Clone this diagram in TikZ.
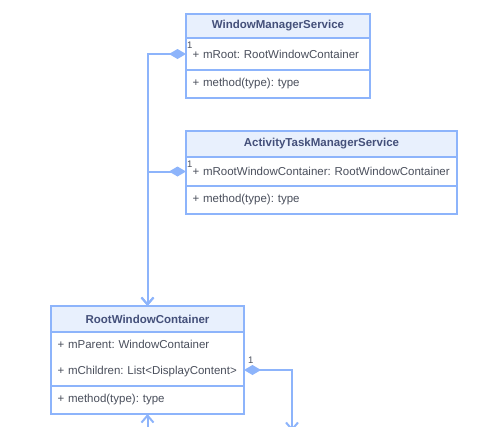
\documentclass[tikz,border=0pt]{standalone}
\usepackage{fontspec}
\setmainfont{Liberation Sans}
\usetikzlibrary{
  positioning,
  arrows.meta
}
\definecolor{umlline}{HTML}{8DB4FB}
\definecolor{umlhead}{HTML}{E8F0FD}
\definecolor{headtext}{HTML}{44507A}
\definecolor{bodytext}{HTML}{4A4F5C}
\frenchspacing

\begin{document}
\begin{tikzpicture}[
  x=1pt, y=-1pt,
  node distance=0pt,
  classhead/.style={draw=umlline, fill=umlhead, line width=2pt, outer sep=0pt, minimum height=26pt, text=headtext, font=\bfseries\fontsize{11.5}{13}\selectfont},
  classpart/.style={draw=umlline, fill=white, line width=2pt, outer sep=0pt, inner xsep=6.5pt, align=left, text=bodytext, font=\fontsize{11.5}{13}\selectfont},
  mult/.style={inner sep=0pt, text=bodytext, font=\fontsize{9.5}{10}\selectfont},
  compose/.style={draw=umlline, line width=2pt, {Diamond[length=17pt, width=10pt, fill=umlline]}-{Straight Barb[length=7pt, width=12pt]}},
  assoc/.style={draw=umlline, line width=2pt, -{Straight Barb[length=7pt, width=12pt]}}
]
\clip (0,0) rectangle (490,426);

% WindowManagerService
\node[classhead, minimum width=184pt, minimum height=24pt] (wmshead) at (278,26) {WindowManagerService};
\node[classpart, below=of wmshead, minimum width=184pt, minimum height=32pt, text width=171pt] (wmsattr) {+ mRoot: RootWindowContainer};
\node[classpart, below=of wmsattr, minimum width=184pt, minimum height=28pt, text width=171pt] (wmsmeth) {+ method(type): type};

% ActivityTaskManagerService
\node[classhead, minimum width=271pt] (atmshead) at (321.5,144) {ActivityTaskManagerService};
\node[classpart, below=of atmshead, minimum width=271pt, minimum height=29pt, text width=258pt] (atmsattr) {+ mRootWindowContainer: RootWindowContainer};
\node[classpart, below=of atmsattr, minimum width=271pt, minimum height=28pt, text width=258pt] (atmsmeth) {+ method(type): type};

% RootWindowContainer
\node[classhead, minimum width=193pt] (rwchead) at (147.5,319) {RootWindowContainer};
\node[classpart, below=of rwchead, minimum width=193pt, minimum height=54pt, text width=180pt] (rwcattr) {+ mParent: WindowContainer\\[13pt]+ mChildren: List<DisplayContent>};
\node[classpart, below=of rwcattr, minimum width=193pt, minimum height=28pt, text width=180pt] (rwcmeth) {+ method(type): type};

% free ends below the picture
\coordinate (rwcout) at (292,431);
\coordinate (rwcin) at (147.5,440);

% Connectors
\draw[compose] (wmsattr.west) -| (rwchead.north);
\draw[compose] (atmsattr.west) -| (rwchead.north);
\draw[compose] ([yshift=-11pt]rwcattr.east) -| (rwcout);
\draw[assoc] (rwcin) -- (rwcmeth.south);

% Multiplicities
\node[mult, anchor=north west] (wmsone) at ([xshift=1pt, yshift=-4pt]wmsattr.north west) {1};
\node[mult, anchor=north west] (atmsone) at ([xshift=1pt, yshift=-4pt]atmsattr.north west) {1};
\node[mult, anchor=south west] (rwcone) at ([xshift=4pt, yshift=-5pt]rwcattr.east) {1};

\end{tikzpicture}
\end{document}
